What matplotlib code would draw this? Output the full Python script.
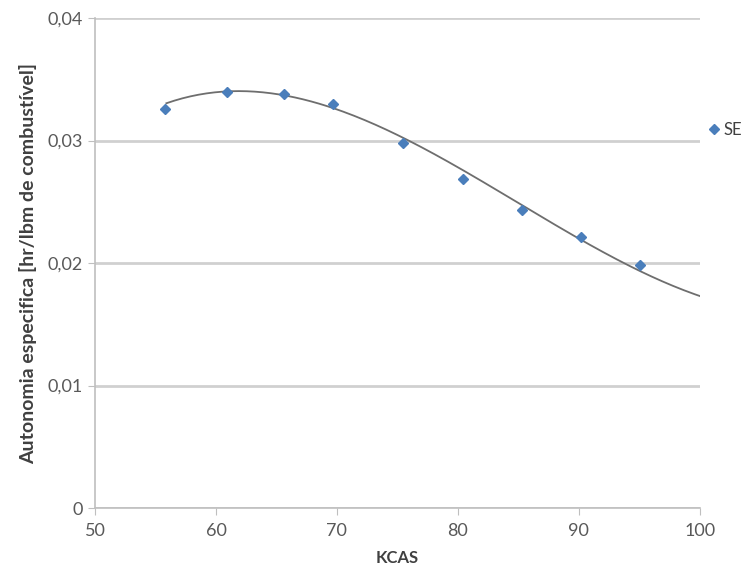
import numpy as np
import matplotlib.pyplot as plt

# medições: velocidade calibrada x autonomia específica
kcas = [55.8, 60.9, 65.6, 69.7, 75.5, 80.4, 85.3, 90.2, 95.1]
se = [0.0326, 0.0340, 0.0338, 0.0330, 0.0298, 0.0269, 0.0243, 0.0221, 0.0198]

# pontos da linha de tendência (polinomial 3a ordem, prolongada até 100)
trend_kcas = [55.9, 63.4, 67.5, 73.55, 80.4, 85.3, 90.2, 95.1, 100]
trend_se = [0.0330, 0.0339, 0.0336, 0.0311, 0.0273, 0.0247, 0.0219, 0.0197, 0.0171]

xticks = [50, 60, 70, 80, 90, 100]
yticks = [0, 0.01, 0.02, 0.03, 0.04]
ytick_labels = ['0', '0,01', '0,02', '0,03', '0,04']

plt.rcParams['font.family'] = ['Lato', 'DejaVu Sans']

fig = plt.figure(figsize=(7.54, 5.85), dpi=100)
ax = fig.add_axes([0.126, 0.1316, 0.802, 0.8375])

coef = np.polyfit(trend_kcas, trend_se, 3)
xs = np.linspace(trend_kcas[0], trend_kcas[-1], 200)
ax.plot(xs, np.polyval(coef, xs), color='#6e6e6e', lw=1.3, zorder=2)

ax.plot(kcas, se, linestyle='none', marker='D', ms=5.5, color='#4a7ebb',
        label='SE', zorder=3)

ax.set_xlim(50, 100)
ax.set_ylim(0, 0.04)
ax.set_xticks(xticks)
ax.set_yticks(yticks)
ax.set_yticklabels(ytick_labels)
ax.grid(axis='y', color='#d0d0d0', lw=2)
ax.set_axisbelow(True)

for s in ['top', 'right']:
    ax.spines[s].set_visible(False)
for s in ['left', 'bottom']:
    ax.spines[s].set_color('#bfbfbf')
    ax.spines[s].set_linewidth(1.2)

ax.tick_params(colors='#bfbfbf', labelcolor='#595959', labelsize=13, length=5)
ax.tick_params(axis='x', pad=6)

ax.set_xlabel('KCAS', fontsize=12, fontweight='bold', color='#404040', labelpad=8)
ax.set_ylabel('Autonomia especifica [hr/lbm de combustível]', fontsize=14,
              fontweight='bold', color='#404040', labelpad=8)

ax.legend(loc='upper left', bbox_to_anchor=(0.99, 0.818), frameon=False,
          fontsize=12, handlelength=0.6, handletextpad=0.3, markerscale=1.0,
          labelcolor='#404040')

fig.savefig('out.png', dpi=100)
